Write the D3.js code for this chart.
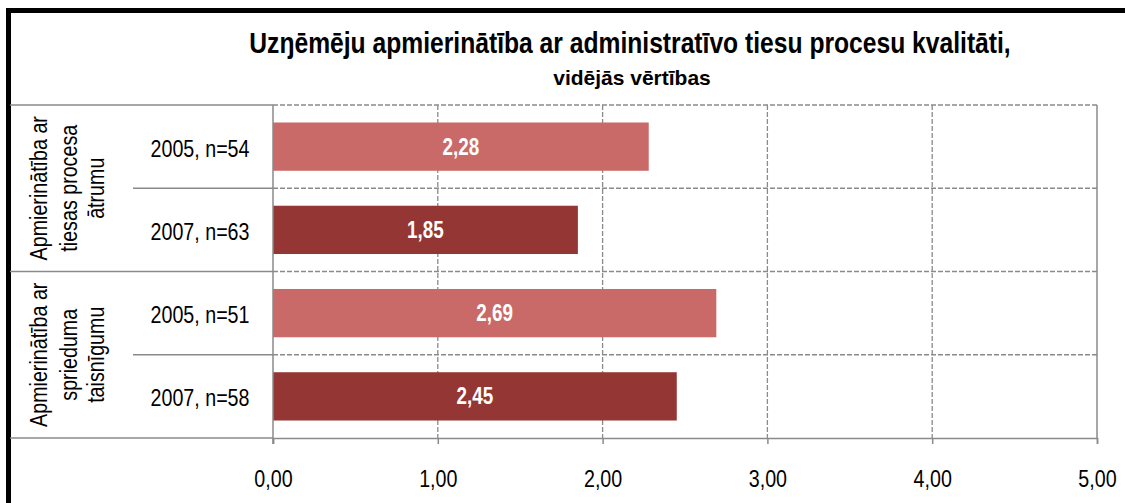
<!DOCTYPE html>
<html lang="lv">
<head>
<meta charset="utf-8">
<title>Uzņēmēju apmierinātība</title>
<script src="https://d3js.org/d3.v7.min.js"></script>
<style>
  body { margin: 0; background: #fff; }
  svg { font-family: "Liberation Sans", Arial, sans-serif; }
</style>
</head>
<body>
<script>
// data
const groupLines = [
  ["Apmierinātība ar", "tiesas procesa", "ātrumu"],
  ["Apmierinātība ar", "sprieduma", "taisnīgumu"]
];
const rowLabels = ["2005, n=54", "2007, n=63", "2005, n=51", "2007, n=58"];
const rowYears = ["2005", "2007", "2005", "2007"];
const rowGroup = [0, 0, 1, 1];
const values = [2.28, 1.85, 2.69, 2.45];
const xTicks = [0, 1, 2, 3, 4, 5];
const title = "Uzŋēmēju apmierinātība ar administratīvo tiesu procesu kvalitāti,";
const subtitle = "vidējās vērtības";

const W = 1125, H = 503;
const plot = {left: 273, right: 1097, top: 105, bottom: 438};
const grid = "#8a8a8a";
const narrow = 0.82; // Arial Narrow look from Liberation Sans
const yearColor = d3.scaleOrdinal().domain(["2005", "2007"]).range(["#c96a68", "#943634"]);
const fmt = v => d3.format(".2f")(v).replace(".", ",");

const svg = d3.select("body").append("svg")
    .attr("width", W).attr("height", H);

// places a horizontally condensed text at (x, y)
function label(parent, x, y, txt, size, bold, extra, sx) {
  return parent.append("text")
    .attr("transform", `translate(${x},${y})${extra || ""} scale(${sx || narrow},1)`)
    .attr("text-anchor", "middle")
    .style("font-size", size + "px")
    .style("font-weight", bold ? "bold" : "normal")
    .text(txt);
}

// outer frame
svg.append("rect")
    .attr("x", 8.5).attr("y", 10.5)
    .attr("width", W + 20).attr("height", H + 20)
    .attr("fill", "none").attr("stroke", "#000").attr("stroke-width", 5);

// titles
label(svg, 630, 53, title, 29, true, "", 0.85);
label(svg, 632, 85, subtitle, 21, true, "", 1);

const x = d3.scaleLinear().domain([0, 5]).range([plot.left, plot.right]);
const y = d3.scaleBand().domain(d3.range(values.length))
    .range([plot.top, plot.bottom]).paddingInner(0.42).paddingOuter(0.21);
const step = y.step();
const rowEdge = i => plot.top + i * step;

// horizontal dashed grid lines (row boundaries inside plot)
svg.append("g").selectAll("line")
    .data(d3.range(values.length))
    .join("line")
    .attr("x1", plot.left).attr("x2", plot.right)
    .attr("y1", i => rowEdge(i)).attr("y2", i => rowEdge(i))
    .attr("stroke", grid).attr("stroke-width", 1.3)
    .attr("stroke-dasharray", "5,2");

// vertical dashed grid lines
svg.append("g").selectAll("line")
    .data(xTicks.filter(t => t > 0 && t < 5))
    .join("line")
    .attr("x1", d => x(d)).attr("x2", d => x(d))
    .attr("y1", plot.top).attr("y2", plot.bottom)
    .attr("stroke", grid).attr("stroke-width", 1.3)
    .attr("stroke-dasharray", "5,2");

// right border of plot
svg.append("line")
    .attr("x1", x(5)).attr("x2", x(5))
    .attr("y1", plot.top).attr("y2", plot.bottom)
    .attr("stroke", grid).attr("stroke-width", 1.5);

// bars
svg.append("g").selectAll("rect")
    .data(values)
    .join("rect")
    .attr("x", x(0))
    .attr("y", (d, i) => y(i))
    .attr("width", d => x(d) - x(0))
    .attr("height", y.bandwidth())
    .attr("fill", (d, i) => yearColor(rowYears[i]));

// bar value labels
const gv = svg.append("g").attr("fill", "#fff");
values.forEach((d, i) => {
  label(gv, (x(0) + x(d)) / 2, y(i) + y.bandwidth() / 2 + 8, fmt(d), 23, true);
});

// x axis
const xAxis = d3.axisBottom(x).tickValues(xTicks).tickSize(6).tickFormat(fmt);
const gx = svg.append("g")
    .attr("transform", `translate(0,${plot.bottom})`)
    .call(xAxis);
gx.select(".domain").attr("stroke", grid).attr("stroke-width", 1.5);
gx.selectAll(".tick line").attr("stroke", grid).attr("stroke-width", 1.5);
gx.selectAll(".tick text")
    .attr("y", 0).attr("dy", 0)
    .attr("transform", `translate(0,49) scale(${narrow},1)`)
    .attr("fill", "#000")
    .style("font-size", "24px")
    .style("font-family", "'Liberation Sans', Arial, sans-serif");

// y axis line
svg.append("line")
    .attr("x1", plot.left).attr("x2", plot.left)
    .attr("y1", plot.top).attr("y2", plot.bottom + 6)
    .attr("stroke", grid).attr("stroke-width", 1.5);

// left table lines: group boundaries full width, row boundaries inner
const rowBounds = d3.range(values.length + 1);
svg.append("g").selectAll("line")
    .data(rowBounds)
    .join("line")
    .attr("x1", i => (i % 2 === 0 ? 10 : 133))
    .attr("x2", plot.left)
    .attr("y1", i => rowEdge(i)).attr("y2", i => rowEdge(i))
    .attr("stroke", grid).attr("stroke-width", 1.5);

// row labels
const gr = svg.append("g");
rowLabels.forEach((t, i) => {
  label(gr, 200, y(i) + y.bandwidth() / 2 + 10, t, 24, false);
});

// group labels (rotated)
const lineX = [47, 77, 104];
const gg = svg.append("g");
groupLines.forEach((lines, g) => {
  const idx = rowGroup.map((r, i) => r === g ? i : -1).filter(i => i >= 0);
  const cy = (rowEdge(idx[0]) + rowEdge(idx[idx.length - 1] + 1)) / 2;
  lines.forEach((t, k) => {
    label(gg, lineX[k], cy, t, 24, false, " rotate(-90)");
  });
});
</script>
</body>
</html>
